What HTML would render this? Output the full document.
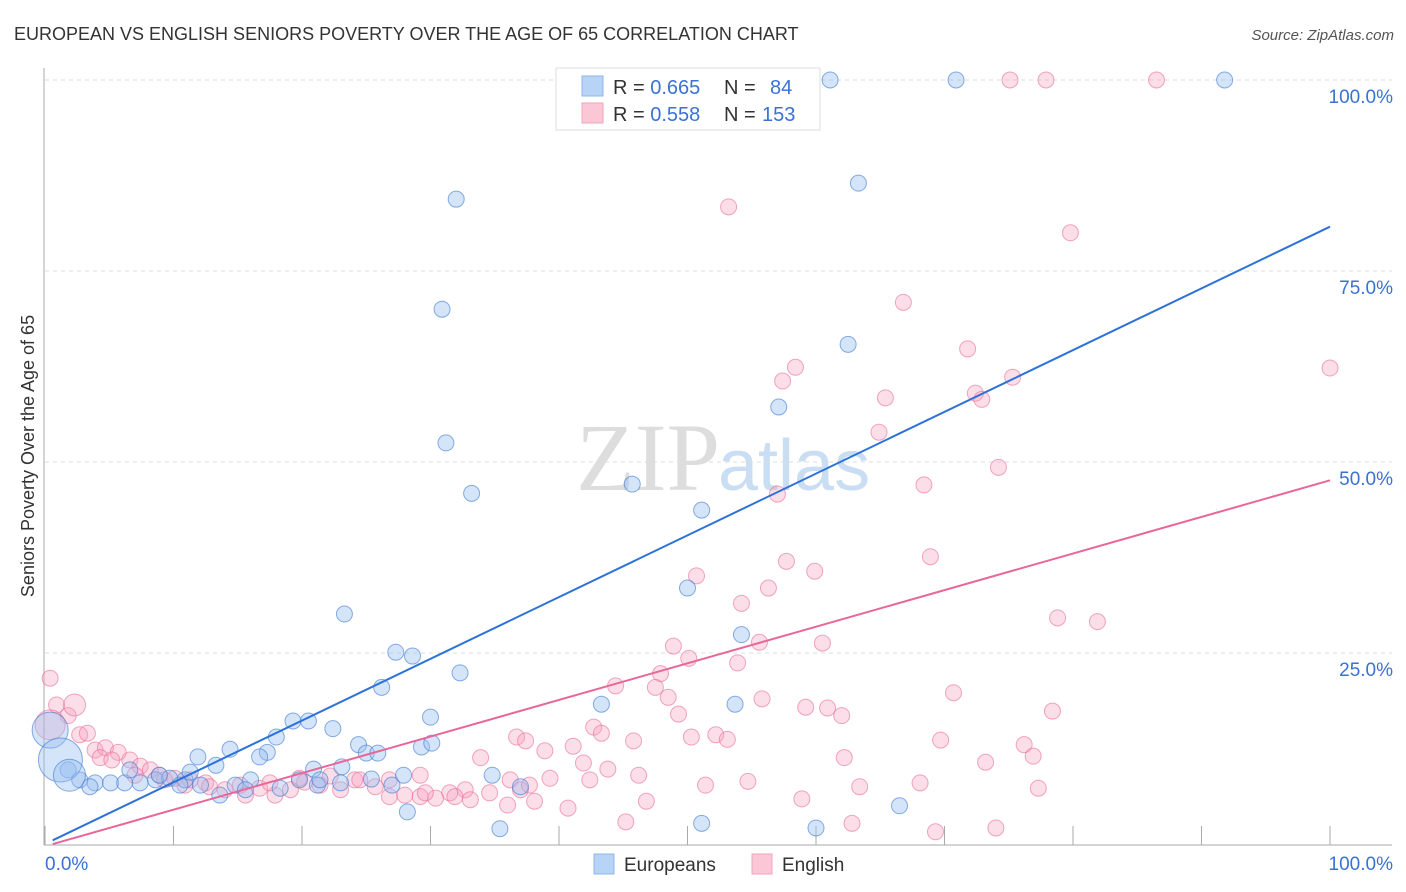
<!DOCTYPE html>
<html><head><meta charset="utf-8"><style>
body{margin:0;background:#fff;font-family:"Liberation Sans",sans-serif}
svg{display:block}
</style></head><body>
<svg id="c" width="1406" height="892" xmlns="http://www.w3.org/2000/svg">
<text x="14" y="40" font-size="18" fill="#333">EUROPEAN VS ENGLISH SENIORS POVERTY OVER THE AGE OF 65 CORRELATION CHART</text>
<text x="1394" y="40" font-size="15" fill="#555" font-style="italic" text-anchor="end">Source: ZipAtlas.com</text>
<text x="720" y="490" font-size="96" font-family="Liberation Serif,serif" fill="#ddd" text-anchor="end">ZIP</text>
<text x="718" y="490" font-size="72" fill="#c9ddf3">atlas</text>
<g id="grid"></g>
<g id="pts"></g>
<g id="lines"></g>
<text transform="translate(34,456) rotate(-90)" font-size="18" fill="#333" text-anchor="middle">Seniors Poverty Over the Age of 65</text>
<g>
<rect x="556" y="68" width="264" height="62" fill="#fff" stroke="#ddd"/>
<rect x="582" y="76" width="21" height="20" fill="#b7d3f6" stroke="#8db5ea"/>
<rect x="582" y="103" width="21" height="20" fill="#fbc7d6" stroke="#f0a3bb"/>
<text x="613" y="94" font-size="20" fill="#333">R = <tspan fill="#3a72d4">0.665</tspan><tspan x="724">N = </tspan><tspan x="770" fill="#3a72d4">84</tspan></text>
<text x="613" y="121" font-size="20" fill="#333">R = <tspan fill="#3a72d4">0.558</tspan><tspan x="724">N = </tspan><tspan x="762" fill="#3a72d4">153</tspan></text>
</g>
<g>
<rect x="594" y="854" width="20" height="20" fill="#b7d3f6" stroke="#8db5ea"/>
<text x="624" y="871" font-size="19" fill="#333">Europeans</text>
<rect x="752" y="854" width="20" height="20" fill="#fbc7d6" stroke="#f0a3bb"/>
<text x="782" y="871" font-size="19" fill="#333">English</text>
</g>
</svg>
<script>
const yTicks=[25,50,75,100];
const yTickLabels=["25.0%","50.0%","75.0%","100.0%"];
const xTicks=[0,10,20,30,40,50,60,70,80,90,100];
const blueX=[61.1,70.9,91.8,32.0,63.3,30.9,62.5,31.2,57.1,33.2,45.7,51.1,23.3,50.0,54.2,27.3,28.6,32.3,26.2,43.3,53.7,30.0,22.4,19.3,20.5,18.0,14.4,17.3,11.9,13.3,16.7,24.4,25.0,25.9,29.3,30.1,20.9,23.1,34.8,37.0,27.9,25.4,27.0,28.2,35.4,51.1,60.0,66.5,1.8,2.7,3.9,5.1,6.2,7.4,8.6,9.7,10.9,12.1,13.6,14.8,16.0,18.3,19.8,21.2,3.5,10.5,15.6,21.4,23.0,6.6,8.9,11.3,0.4,1.2,1.9];
const blueY=[100,100,100,84.4,86.5,70.0,65.4,52.5,57.2,45.9,47.1,43.7,30.1,33.5,27.4,25.1,24.6,22.4,20.5,18.3,18.3,16.6,15.1,16.1,16.1,14.0,12.4,12.0,11.4,10.3,11.4,13.0,11.9,11.9,12.7,13.2,9.8,10.1,9.0,7.5,9.0,8.5,7.7,4.2,2.0,2.7,2.1,5.0,9.7,8.4,8.0,8.0,8.0,8.0,8.4,8.6,8.4,7.7,6.4,7.7,8.4,7.3,8.4,7.7,7.5,7.7,7.1,8.4,8.0,9.7,9.0,9.4,14.9,11.0,9.0];
const blueSize=[];for(let i=0;i<blueX.length;i++)blueSize.push(i>=blueX.length-3?[18,22,16][i-blueX.length+3]:8);
const pinkX=[75.1,77.9,86.5,53.2,79.8,66.8,71.8,100,58.4,57.4,65.4,72.4,72.9,75.3,64.9,74.2,68.4,57.0,68.9,50.7,57.7,59.9,56.3,54.2,78.8,81.9,48.9,55.6,60.5,50.1,53.9,47.9,44.4,47.5,48.5,70.7,55.8,59.2,60.9,62.0,78.4,49.3,42.7,43.3,36.7,37.4,45.8,50.3,52.2,53.1,69.7,76.2,76.9,41.1,38.9,33.9,41.9,62.2,73.2,43.8,46.2,39.3,36.2,29.2,42.4,51.4,54.7,63.4,68.1,77.3,46.8,58.9,38.1,36.0,40.7,45.2,62.8,69.3,74.0,0.4,0.9,1.8,2.7,3.3,3.9,4.7,5.7,6.6,7.4,8.2,8.9,10.1,11.3,12.5,14.0,15.2,16.7,17.9,19.1,20.2,21.4,23.0,24.1,25.7,26.8,28.0,29.2,30.4,31.5,32.7,34.6,4.3,5.2,7.0,9.3,10.9,12.8,15.6,17.5,19.8,22.2,24.5,26.8,29.6,31.9,33.1,37.0,37.7,2.3,0.4];
const pinkY=[100,100,100,83.4,80.0,70.9,64.8,62.3,62.4,60.6,58.4,59.0,58.2,61.1,53.9,49.3,47.0,45.8,37.6,35.1,37.0,35.7,33.5,31.5,29.6,29.1,25.9,26.4,26.3,24.3,23.7,22.3,20.7,20.5,19.2,19.8,19.0,17.9,17.8,16.8,17.4,17.0,15.3,14.5,14.0,13.5,13.5,14.0,14.3,13.7,13.6,13.0,11.5,12.8,12.2,11.3,10.6,11.3,10.7,9.8,9.0,8.6,8.4,9.0,8.4,7.7,8.2,7.5,8.0,7.3,5.6,5.9,5.6,5.1,4.7,2.9,2.7,1.6,2.1,21.7,18.2,16.8,14.3,14.5,12.3,12.6,12.0,11.0,10.2,9.7,9.0,8.6,8.4,8.0,7.1,7.7,7.3,6.4,7.1,8.1,7.7,7.1,8.4,7.5,6.2,6.4,6.2,6.0,6.7,7.1,6.7,11.3,11.0,9.0,8.4,7.7,7.5,6.4,8.0,8.6,8.9,8.4,8.4,6.7,6.2,5.8,7.1,7.7,18.2,15.6];
const pinkSize=[];for(let i=0;i<pinkX.length;i++)pinkSize.push(i>=pinkX.length-2?[11,15][i-pinkX.length+2]:8);
const blueFit=[0,80.8];
const pinkFit=[-0.3,47.6];
const NS="http://www.w3.org/2000/svg";
const X=v=>45+v*12.85, Y=v=>844-v*7.64;
function mk(t,a,p){const e=document.createElementNS(NS,t);for(const k in a)e.setAttribute(k,a[k]);p.appendChild(e);return e;}
const grid=document.getElementById('grid');
yTicks.forEach((t,i)=>{
 const l=mk('line',{x1:45,x2:1392,y1:Y(t),y2:Y(t),stroke:'#ddd','stroke-dasharray':'4,4'},grid);
 
 
 const tx=mk('text',{x:1393,y:Y(t)+23,'font-size':19,fill:'#3a72d4','text-anchor':'end'},grid);
 tx.textContent=yTickLabels[i];
 
 
});
const ax=mk('line',{x1:44,x2:44,y1:68,y2:845,stroke:'#aaa'},grid);


const bx=mk('line',{x1:44,x2:1392,y1:845,y2:845,stroke:'#aaa'},grid);


xTicks.forEach(t=>{
 const l=mk('line',{x1:X(t),x2:X(t),y1:826,y2:845,stroke:'#aaa'},grid);
 
 
});
const x0=mk('text',{x:45,y:870,'font-size':19,fill:'#3a72d4'},grid);x0.textContent='0.0%';


const x1=mk('text',{x:1393,y:870,'font-size':19,fill:'#3a72d4','text-anchor':'end'},grid);x1.textContent='100.0%';


const pts=document.getElementById('pts');
pinkX.forEach((v,i)=>{
 const c=mk('circle',{cx:X(v),cy:Y(pinkY[i]),r:pinkSize[i],fill:'rgba(245,160,188,0.35)',stroke:'rgba(232,110,150,0.6)','stroke-width':1},pts);
 
 
});
blueX.forEach((v,i)=>{
 const c=mk('circle',{cx:X(v),cy:Y(blueY[i]),r:blueSize[i],fill:'rgba(150,190,240,0.4)',stroke:'rgba(60,120,210,0.6)','stroke-width':1},pts);
 
 
});
const lines=document.getElementById('lines');
const bl=mk('line',{x1:X(0.6),y1:Y(blueFit[0]+0.6*(blueFit[1]-blueFit[0])/100),x2:X(100),y2:Y(blueFit[1]),stroke:'#2c72d8','stroke-width':2},lines);


const pl=mk('line',{x1:X(0.6),y1:Y(pinkFit[0]+0.6*(pinkFit[1]-pinkFit[0])/100),x2:X(100),y2:Y(pinkFit[1]),stroke:'#e8679a','stroke-width':2},lines);


</script>
</body></html>
